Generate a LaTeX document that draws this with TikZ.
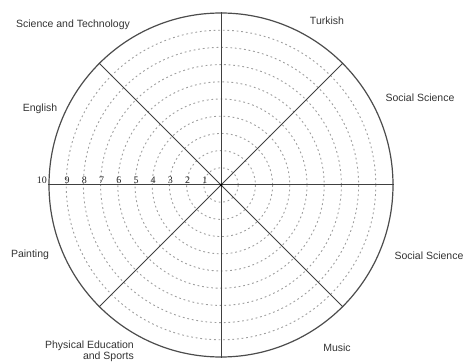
\documentclass[tikz,border=0pt]{standalone}
\usepackage{fontspec}
\setmainfont{Liberation Sans}
\newfontfamily\numfont{Liberation Serif}
\begin{document}
\begin{tikzpicture}[x=1pt,y=-1pt,
  lbl/.style={font=\fontsize{10.5}{11.5}\selectfont, text=black!80, inner sep=0pt},
  ring/.style={draw=black!38, line width=0.9pt, dash pattern=on 1.8pt off 2.8pt},
  spoke/.style={draw=black!75, line width=1pt},
  num/.style={font=\numfont\fontsize{10}{10}\selectfont, text=black!85, anchor=base, inner sep=0pt}]
\useasboundingbox (0,0) rectangle (465,363);
\coordinate (c) at (221,185);
\foreach \k in {1,...,9} \draw[ring] (c) circle[radius=17.2*\k];
\node[circle, draw=black!70, line width=1.2pt, minimum size=344pt, inner sep=0pt] (outer) at (c) {};
\foreach \a in {0,45,...,315} \draw[spoke] (c) -- (outer.\a);
\node[circle, fill=black, inner sep=0pt, minimum size=3pt] (dot) at (c) {};
\foreach \k in {1,...,9} \node[num] (n\k) at (222-17.2*\k,183.5) {\k};
\node[num, anchor=base east] (n10) at (47,183.5) {10};
\node[lbl] (st) at (73,25) {Science and Technology};
\node[lbl] (tr) at (327,21) {Turkish};
\node[lbl] (ss1) at (420,98) {Social Science};
\node[lbl] (en) at (40,109) {English};
\node[lbl] (pa) at (30,255) {Painting};
\node[lbl] (ss2) at (429,256) {Social Science};
\node[lbl] (mu) at (337,348) {Music};
\node[lbl, align=right, anchor=south east] (pe) at (134,362) {Physical Education\\and Sports};
\end{tikzpicture}
\end{document}
